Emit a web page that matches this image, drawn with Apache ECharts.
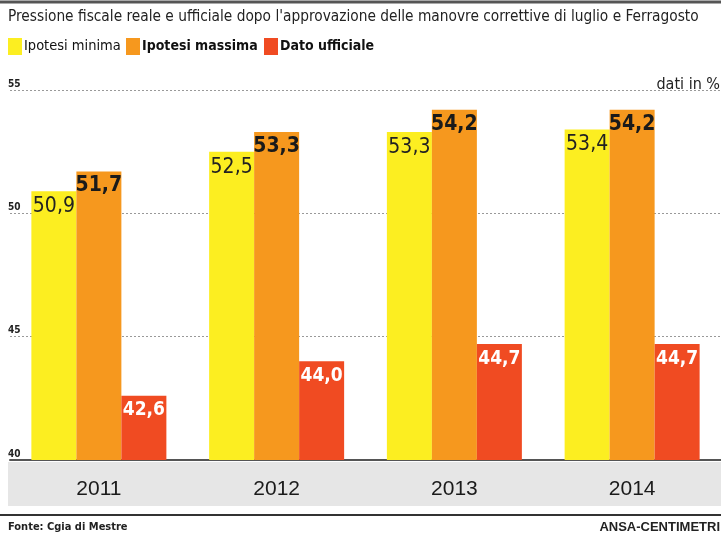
<!DOCTYPE html>
<html><head><meta charset="utf-8">
<script src="https://cdn.jsdelivr.net/npm/echarts@6/dist/echarts.min.js"></script>
<style>html,body{margin:0;padding:0;background:#fff}#c{width:721px;height:536px}</style>
</head><body><div id="c"></div>
<script>
var categories = ['2011', '2012', '2013', '2014'];
var ipotesiMinima = [50.9, 52.5, 53.3, 53.4];
var ipotesiMassima = [51.7, 53.3, 54.2, 54.2];
var datoUfficiale = [42.6, 44.0, 44.7, 44.7];
var yTicks = [40, 45, 50, 55];

var NARROW = '"Liberation Sans Narrow", "DejaVu Sans Condensed", "Liberation Sans", sans-serif';
var fmt = function (p) { return p.value.toFixed(1).replace('.', ','); };

function legendItem(name, left, bold) {
  return {
    left: left, top: 38, padding: 0, itemWidth: 14, itemHeight: 17, itemGap: 0, icon: 'rect',
    textStyle: { fontFamily: NARROW, fontSize: bold ? 14 : 14.5, color: '#111', fontWeight: bold ? 'bold' : 'normal', padding: [0, 0, 0, -3] },
    data: [name]
  };
}

var chart = echarts.init(document.getElementById('c'));
chart.setOption({
  animation: false,
  backgroundColor: '#fff',
  textStyle: { fontFamily: NARROW },
  title: [
    { text: "Pressione fiscale reale e ufficiale dopo l'approvazione delle manovre correttive di luglio e Ferragosto",
      left: 8, top: 10, padding: 0, textStyle: { fontFamily: NARROW, fontSize: 15.3, fontWeight: 'normal', color: '#222' } },
    { text: 'dati in %', right: 1, top: 77, padding: 0, textStyle: { fontFamily: NARROW, fontSize: 16, fontWeight: 'normal', color: '#222' } },
    { text: 'Fonte: Cgia di Mestre', left: 8, top: 522, padding: 0, textStyle: { fontFamily: NARROW, fontSize: 11, fontWeight: 'bold', color: '#222' } },
    { text: 'ANSA-CENTIMETRI', right: 1, top: 521, padding: 0, textStyle: { fontFamily: '"Liberation Sans", sans-serif', fontSize: 13, fontWeight: 'bold', color: '#222' } }
  ],
  legend: [
    legendItem('Ipotesi minima', 8, false),
    legendItem('Ipotesi massima', 126, true),
    legendItem('Dato ufficiale', 264, true)
  ],
  graphic: [
    { type: 'line', shape: { x1: 0, y1: 2, x2: 721, y2: 2 }, style: { stroke: '#555', lineWidth: 3 }, z: -1 },
    { type: 'rect', shape: { x: 8, y: 462, width: 713, height: 44 }, style: { fill: '#e6e6e6' }, z: -1 },
    { type: 'line', shape: { x1: 0, y1: 515, x2: 721, y2: 515 }, style: { stroke: '#333', lineWidth: 2 }, z: -1 }
  ],
  grid: { left: 10, right: 0, top: 90, bottom: 76 },
  xAxis: {
    type: 'category', data: categories,
    axisTick: { show: false },
    axisLine: { lineStyle: { color: '#555', width: 2 } },
    axisLabel: { margin: 19, fontFamily: '"Liberation Sans", sans-serif', fontSize: 21, color: '#1a1a1a' }
  },
  yAxis: {
    type: 'value', min: 40, max: 55, interval: 5,
    axisLine: { show: false }, axisTick: { show: false },
    splitLine: { lineStyle: { color: '#999', type: [2, 2], width: 1 } },
    axisLabel: {
      inside: true, margin: -2, verticalAlign: 'bottom', lineHeight: 8, padding: [0, 0, 2, 0],
      fontFamily: NARROW, fontSize: 10, fontWeight: 'bold', color: '#222',
      formatter: function (v) { return yTicks.indexOf(v) >= 0 ? String(v) : ''; }
    }
  },
  series: [
    { name: 'Ipotesi minima', type: 'bar', data: ipotesiMinima, barWidth: 45, barGap: '0%',
      itemStyle: { color: '#fcee21' },
      label: { show: true, position: 'insideTop', distance: 5, formatter: fmt, fontFamily: NARROW, fontSize: 21, color: '#222' } },
    { name: 'Ipotesi massima', type: 'bar', data: ipotesiMassima, barWidth: 45, barGap: '0%',
      itemStyle: { color: '#f6981e' },
      label: { show: true, position: 'insideTop', distance: 4, formatter: fmt, fontFamily: NARROW, fontSize: 21, fontWeight: 'bold', color: '#1a1a1a' } },
    { name: 'Dato ufficiale', type: 'bar', data: datoUfficiale, barWidth: 45, barGap: '0%',
      itemStyle: { color: '#f04b22' },
      label: { show: true, position: 'insideTop', distance: 5, formatter: fmt, fontFamily: NARROW, fontSize: 19, fontWeight: 'bold', color: '#fff' } }
  ]
});
</script></body></html>
